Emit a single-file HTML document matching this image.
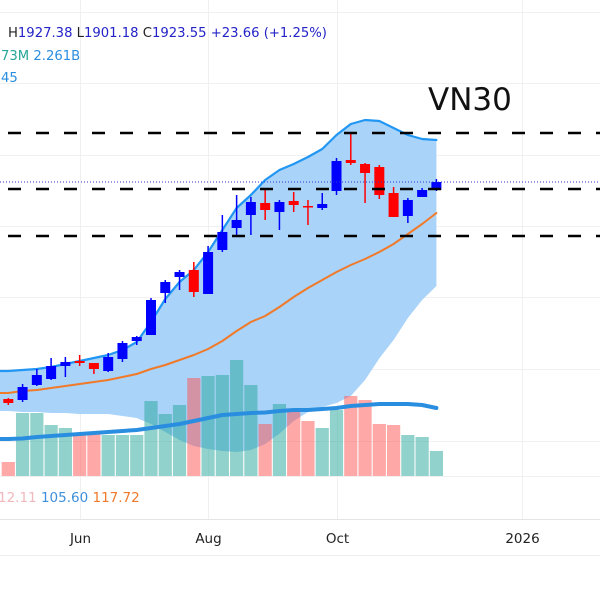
<!DOCTYPE html>
<html><head><meta charset="utf-8"><style>
html,body{margin:0;padding:0;background:#fff;width:600px;height:600px;overflow:hidden}
svg{display:block}
text{font-family:"DejaVu Sans","Liberation Sans",sans-serif}
</style></head><body>
<svg id="chart" width="600" height="600" viewBox="0 0 600 600" xmlns="http://www.w3.org/2000/svg">
<g id="grid"></g>
<g id="band"></g>
<g id="vol"></g>
<g id="lines"></g>
<g id="candles"></g>
<g id="levels"></g>
<text x="428" y="110" font-size="31" fill="#111">VN30</text>
<text x="8" y="37" font-size="13.2"><tspan fill="#222">H</tspan><tspan fill="#2323c8">1927.38</tspan><tspan fill="#222">  L</tspan><tspan fill="#2323c8">1901.18</tspan><tspan fill="#222">  C</tspan><tspan fill="#2323c8">1923.55</tspan><tspan fill="#2323c8">  +23.66 (+1.25%)</tspan></text>
<text x="1" y="60" font-size="13.2"><tspan fill="#26a69a">73M</tspan><tspan fill="#2a8ee0">  2.261B</tspan></text>
<text x="1" y="82" font-size="13.2" fill="#2a8ee0">45</text>
<text x="-2" y="502" font-size="13.5"><tspan fill="#f2b8bd">12.11</tspan><tspan fill="#3d8fdc">  105.60</tspan><tspan fill="#f07a2a">  117.72</tspan></text>
<line x1="0" y1="519.5" x2="600" y2="519.5" stroke="#e4e4e4"/>
<line x1="0" y1="555.5" x2="600" y2="555.5" stroke="#eeeeee"/>
<g id="xaxis"></g>
</svg>
<script>
const opens  =[1601.5,1600,1622.5,1631.5,1651,1658.5,1655.5,1643.5,1661.5,1688.5,1697.5,1760.5,1784.5,1795,1759,1825,1858,1877.5,1895.5,1882,1898.5,1891,1888,1913.5,1960,1954,1949.5,1910.5,1876,1904.5,1915];
const highs  =[1603,1624,1646.5,1663,1664.5,1667.5,1655.5,1670.5,1688.5,1696,1753,1780,1795,1807,1831,1877.5,1907.5,1904.5,1915,1900,1912,1900,1910.5,1963,2000.5,1955.5,1952.5,1919.5,1903,1918,1931.5];
const lows   =[1592.5,1597,1621,1630,1634.5,1651,1639,1642,1657,1682.5,1697.5,1745.5,1765,1754.5,1759,1822,1844.5,1847.5,1870,1855,1882,1862.5,1885,1907.5,1952.5,1895.5,1901.5,1874.5,1865.5,1904.5,1913.5];
const closes =[1595.5,1619.5,1637.5,1651,1657,1655.5,1646.5,1664.5,1685.5,1694.5,1750,1777,1792,1762,1822,1852,1870,1897,1885,1897,1892.5,1889.5,1894,1958.5,1955.5,1940.5,1907.5,1874.5,1900,1915,1927];
const bbUpper=[1643.5,1645,1646.5,1649.5,1654,1658.5,1663,1667.5,1675,1687,1717,1751.5,1777,1795,1822,1855,1888,1907.5,1930,1945,1954,1964.5,1976.5,1997.5,2014,2020,2018.5,2008,1997.5,1991.5,1990];
const bbMid  =[1610.5,1613.5,1615,1618,1621,1624,1627,1630,1634.5,1639,1646.5,1652.5,1660,1667.5,1676.5,1688.5,1703.5,1717,1726,1739.5,1754.5,1768,1780,1792,1802.5,1811.5,1822,1834,1849,1864,1880.5];
const bbLower=[1583.5,1582,1582,1580.5,1580.5,1579,1579,1579,1576,1573,1564,1552,1540,1531,1526.5,1523.5,1522,1525,1534,1549.5,1568.5,1582,1589.5,1595.5,1606,1630,1662.5,1690,1723,1750,1771];
const volumes=[28,126,126,102,96,86,86,82,82,82,150,124,142,196,200,202,232,182,104,144,128,110,96,132,160,152,104,102,82,78,50];
const volMA  =[74,75,78,80,82,84,86,88,90,92,96,100,104,110,116,122,124,126,127,130,132,132,134,136,140,142,144,144,144,142,136];
const levels =[2000.5,1916.5,1846];
const xTicks =[{label:"Jun",i:5},{label:"Aug",i:14},{label:"Oct",i:23},{label:"2026",i:36}];
const lastPrice=1927;

const NS="http://www.w3.org/2000/svg";
const X=i=>8.3+14.27*i;
const Y=p=>(2200-p)/1.5;
const VY=v=>476-v*0.5;
function mk(parent,tag,attrs){const e=document.createElementNS(NS,tag);for(const k in attrs)e.setAttribute(k,attrs[k]);document.getElementById(parent).appendChild(e);return e;}

[12,83,155,226,297,369,441,476].forEach(y=>{const l=mk('grid','line',{x1:0,x2:600,y1:y+.5,y2:y+.5,stroke:'#f0f0f0'});

});
xTicks.forEach(t=>{const x=Math.round(X(t.i))+.5;const l=mk('grid','line',{x1:x,x2:x,y1:0,y2:519,stroke:'#f0f0f0'});


const tx=mk('xaxis','text',{x:x,y:543,'font-size':13.5,fill:'#222','text-anchor':'middle'});tx.textContent=t.label;

});

let d='M0,'+Y(bbUpper[0]);bbUpper.forEach((v,i)=>d+=' L'+X(i)+','+Y(v));
for(let i=bbLower.length-1;i>=0;i--)d+=' L'+X(i)+','+Y(bbLower[i]);d+=' L0,'+Y(bbLower[0])+'Z';
const bf=mk('band','path',{d:d,fill:'#a9d3f8'});



volumes.forEach((v,i)=>{const up=closes[i]>=opens[i];const r=mk('vol','rect',{x:X(i)-6.6,y:VY(v),width:13.2,height:v*0.5,fill:up?'rgba(38,166,154,0.5)':'rgba(255,82,82,0.5)'});

});

function line(arr,yf,color,w,name){let s='M0,'+yf(arr[0]);arr.forEach((v,i)=>s+=' L'+X(i)+','+yf(v));const p=mk('lines','path',{d:s,fill:'none',stroke:color,'stroke-width':w,'stroke-linejoin':'round','stroke-linecap':'round'});

}
line(volMA,VY,'#2a8ee0',4,'volume-ma-line');
line(bbUpper,Y,'#2196f3',2.2,'bb-upper-line');
line(bbMid,Y,'#f07a2a',2,'bb-middle-line');

opens.forEach((o,i)=>{const c=closes[i];const col=c>=o?'#0000ff':'#ff0000';const x=X(i);
const w=mk('candles','line',{x1:x,x2:x,y1:Y(highs[i]),y2:Y(lows[i]),stroke:col,'stroke-width':1.5});


const top=Y(Math.max(o,c)),bot=Y(Math.min(o,c));
const b=mk('candles','rect',{x:x-5,y:top,width:10,height:Math.max(1.5,bot-top),fill:col});

});

levels.forEach(p=>{const l=mk('levels','line',{x1:8,x2:600,y1:Y(p),y2:Y(p),stroke:'#000','stroke-width':2.5,'stroke-dasharray':'13 15'});

});
const lp=mk('levels','line',{x1:0,x2:600,y1:Y(lastPrice),y2:Y(lastPrice),stroke:'#3030d0','stroke-width':1,'stroke-dasharray':'1 2'});


</script>
</body></html>
